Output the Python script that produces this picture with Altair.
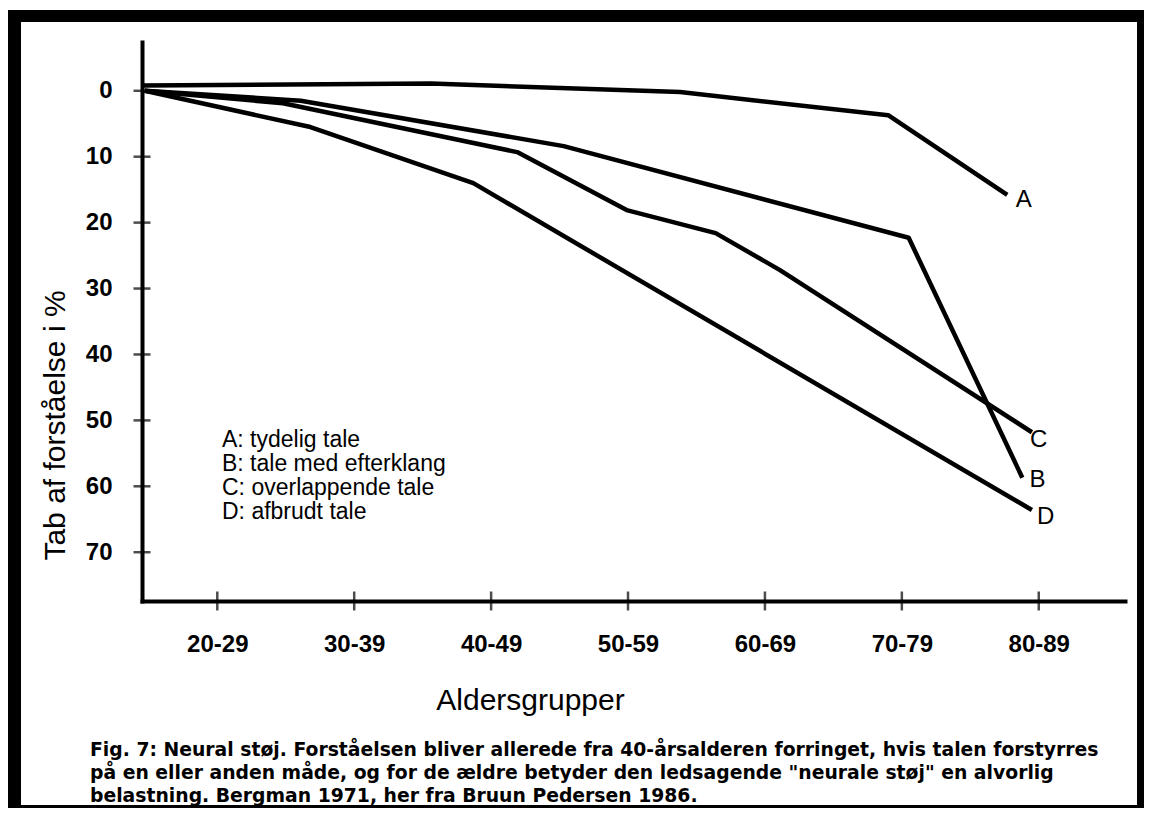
import altair as alt
import pandas as pd

# ---- data ----
age_mid = [25, 35, 45, 55, 65, 75, 85]
age_labels = ["20-29", "30-39", "40-49", "50-59", "60-69", "70-79", "80-89"]
y_ticks = [0, 10, 20, 30, 40, 50, 60, 70]

a_x = [19.6, 40.6, 58.8, 74.0, 82.7]
a_y = [-0.8, -1.1, 0.2, 3.7, 15.8]
b_x = [19.7, 31.1, 50.3, 75.5, 83.8]
b_y = [0.0, 1.5, 8.4, 22.3, 58.7]
c_x = [19.7, 29.8, 46.9, 54.9, 61.4, 66.1, 84.5]
c_y = [0.0, 1.9, 9.3, 18.1, 21.6, 27.2, 51.8]
d_x = [19.7, 31.8, 43.7, 84.5]
d_y = [0.0, 5.5, 14.0, 63.6]

end_names = ["A", "B", "C", "D"]
end_x = [83.9, 84.9, 85.0, 85.5]
end_y = [16.6, 59.1, 53.0, 64.7]

legend_lines = ["A: tydelig tale", "B: tale med efterklang",
                "C: overlappende tale", "D: afbrudt tale"]
caption_lines = ["Fig. 7: Neural støj. Forståelsen bliver allerede fra 40-årsalderen forringet, hvis talen forstyrres",
                 'på en eller anden måde, og for de ældre betyder den ledsagende "neurale støj" en alvorlig',
                 "belastning. Bergman 1971, her fra Bruun Pedersen 1986."]

FONT = "Liberation Sans, Arial, Helvetica, sans-serif"
CAP_FONT = "DejaVu Sans, Liberation Sans, sans-serif"

rows = []
for name, xs, ys in [("A", a_x, a_y), ("B", b_x, b_y), ("C", c_x, c_y), ("D", d_x, d_y)]:
    for i, (xv, yv) in enumerate(zip(xs, ys)):
        rows.append({"serie": name, "i": i, "alder": xv, "tab": yv})
lines_df = pd.DataFrame(rows)
ends_df = pd.DataFrame({"navn": end_names, "alder": end_x, "tab": end_y})
xt_df = pd.DataFrame({"alder": age_mid})
yt_df = pd.DataFrame({"tab": y_ticks})

xscale = alt.Scale(domain=[19.5, 91.3], nice=False, zero=False)
yscale = alt.Scale(domain=[-7.4, 77.4], nice=False, zero=False, reverse=True)

label_expr = " : ".join(f"datum.value == {m} ? '{l}'" for m, l in zip(age_mid, age_labels)) + " : ''"

W, H = 983, 559

x_axis = alt.Axis(values=age_mid, labelExpr=label_expr, ticks=False, tickSize=0,
                  labelPadding=31, labelFont=FONT, labelFontSize=24, labelFontWeight="bold",
                  labelColor="black", domainColor="black", domainWidth=4, domainCap="square",
                  grid=False, title="Aldersgrupper", titleFont=FONT, titleFontSize=30,
                  titleFontWeight="normal", titleColor="black", titleX=388, titleY=108,
                  titleAlign="center", titleBaseline="alphabetic", labelFlush=False,
                  labelOverlap=False)
y_axis = alt.Axis(values=y_ticks, ticks=False, tickSize=0, labelPadding=30,
                  labelFont=FONT, labelFontSize=24, labelFontWeight="bold",
                  labelColor="black", labelBaseline="middle",
                  domainColor="black", domainWidth=4, domainCap="square", grid=False,
                  title="Tab af forståelse i %", titleFont=FONT, titleFontSize=30,
                  titleFontWeight="normal", titleColor="black", titleAngle=270,
                  titleX=-87, titleY=383, titleAlign="center", titleBaseline="middle",
                  labelFlush=False, labelOverlap=False)

lines = alt.Chart(lines_df).mark_line(color="black", strokeWidth=4.5, strokeJoin="round").encode(
    x=alt.X("alder:Q", scale=xscale, axis=x_axis),
    y=alt.Y("tab:Q", scale=yscale, axis=y_axis),
    detail="serie:N",
    order="i:Q",
)

end_labels = alt.Chart(ends_df).mark_text(font=FONT, fontSize=24, color="black",
                                          align="center", baseline="middle").encode(
    x=alt.X("alder:Q", scale=xscale, axis=x_axis),
    y=alt.Y("tab:Q", scale=yscale, axis=y_axis),
    text="navn:N",
)

xticks = alt.Chart(xt_df).mark_tick(orient="vertical", color="black", size=19, thickness=2.5).encode(
    x=alt.X("alder:Q", scale=xscale, axis=x_axis),
    y=alt.value(H),
)
yticks = alt.Chart(yt_df).mark_tick(orient="horizontal", color="black", size=17, thickness=2.5).encode(
    y=alt.Y("tab:Q", scale=yscale, axis=y_axis),
    x=alt.value(0),
)

base1 = alt.Chart(pd.DataFrame({"k": [0]}))

legend = base1.mark_text(
    font=FONT, fontSize=23, color="black", align="left", baseline="alphabetic", lineHeight=24
).encode(x=alt.value(80), y=alt.value(405), text=alt.value(legend_lines))

caption = base1.mark_text(font=CAP_FONT, fontSize=18.8, fontWeight="bold", color="black", align="left",
                          baseline="alphabetic", lineHeight=23).encode(
    x=alt.value(-52), y=alt.value(714), text=alt.value(caption_lines))

# frame bands (page coords minus plot origin 142,42)
def band(x1, x2, y1, y2):
    return base1.mark_rect(color="black").encode(
        x=alt.value(x1), x2=alt.value(x2), y=alt.value(y1), y2=alt.value(y2))

frame = [
    band(-134, 1002, -32, -20),   # top
    band(-134, -121, -32, 766),   # left
    band(995, 1002, -32, 766),    # right
    band(-134, 1002, 763, 766),   # bottom
]

chart = alt.layer(lines, end_labels, xticks, yticks, legend, caption, *frame).properties(
    width=W, height=H,
    background="white",
    autosize=alt.AutoSizeParams(type="none"),
    padding={"left": 134, "top": 34, "right": 19, "bottom": 207},
).configure_view(stroke=None)

chart.save("out.html", embed_options={"renderer": "svg", "actions": False})
